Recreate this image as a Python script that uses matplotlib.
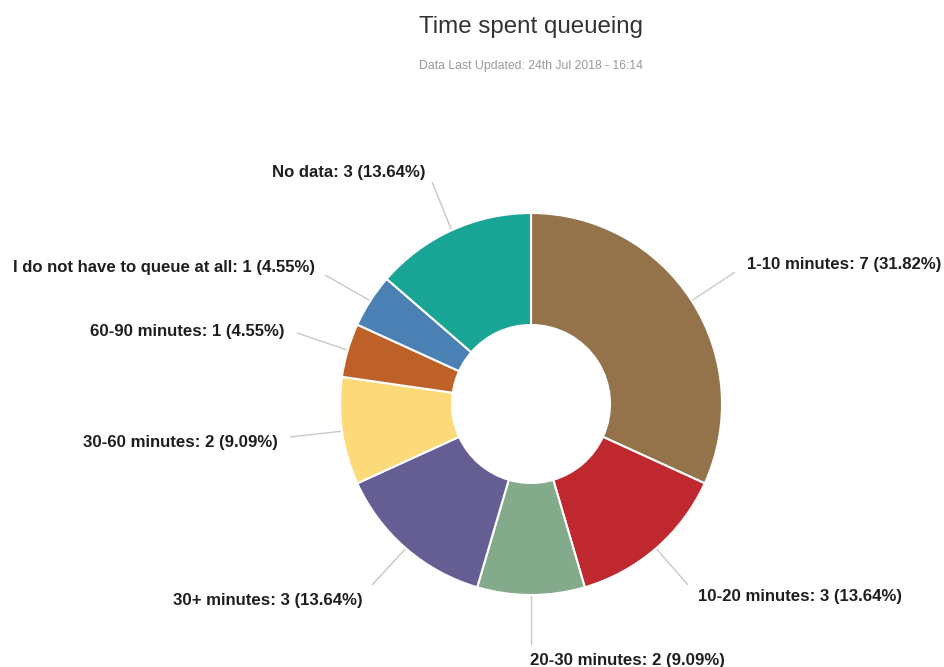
import matplotlib
matplotlib.use("Agg")
import matplotlib.pyplot as plt
import numpy as np

# Survey answers: time spent queueing
categories = ["1-10 minutes", "10-20 minutes", "20-30 minutes", "30+ minutes",
              "30-60 minutes", "60-90 minutes", "I do not have to queue at all",
              "No data"]
counts = [7, 3, 2, 3, 2, 1, 1, 3]
colors = ["#94724A", "#C0282F", "#84AA8C", "#645E92",
          "#FDDA79", "#BD6128", "#4B80B4", "#19A595"]

W, H = 945, 667
fig = plt.figure(figsize=(W / 100, H / 100), dpi=100)
ax = fig.add_axes([0, 0, 1, 1])

def py(y):
    # pixel row (from top) to axes y
    return H - y

cx, cy = 531, py(404)
R_out, R_in = 191, 79

wedges, _ = ax.pie(counts, colors=colors, startangle=90, counterclock=False,
                   radius=R_out, center=(cx, cy),
                   wedgeprops=dict(width=R_out - R_in, edgecolor="white",
                                   linewidth=1.5))

total = sum(counts)
# label anchor (x, row), alignment, and connector end point
label_layout = [
    ((747, 265), "left", (735, 272)),
    ((698, 597), "left", (688, 585)),
    ((530, 660), "left", (531, 645)),
    ((363, 600), "right", (372, 585)),
    ((278, 442), "right", (290, 437)),
    ((285, 332), "right", (297, 333)),
    ((315, 268), "right", (325, 275)),
    ((425, 173), "right", (432, 182)),
]

for w, name, n, (pos, ha, end) in zip(wedges, categories, counts, label_layout):
    mid = np.deg2rad((w.theta1 + w.theta2) / 2)
    sx = cx + R_out * np.cos(mid)
    sy = cy + R_out * np.sin(mid)
    ax.plot([sx, end[0]], [sy, py(end[1])], color="#C8C8C8", lw=1.0,
            solid_capstyle="butt", zorder=0)
    ax.text(pos[0], py(pos[1]), f"{name}: {n} ({n / total * 100:.2f}%)",
            ha=ha, va="center", fontsize=12.1, fontweight="bold",
            color="#1e1e1e", family="Liberation Sans")

ax.text(531, py(27), "Time spent queueing", ha="center", va="center",
        fontsize=17.4, color="#333333", family="Liberation Sans")
ax.text(531, py(66), "Data Last Updated: 24th Jul 2018 - 16:14", ha="center",
        va="center", fontsize=8.8, color="#999999", family="Liberation Sans")

ax.set_xlim(0, W)
ax.set_ylim(0, H)
ax.set_aspect("equal")
ax.axis("off")

fig.savefig("out.png", dpi=100, facecolor="white")
